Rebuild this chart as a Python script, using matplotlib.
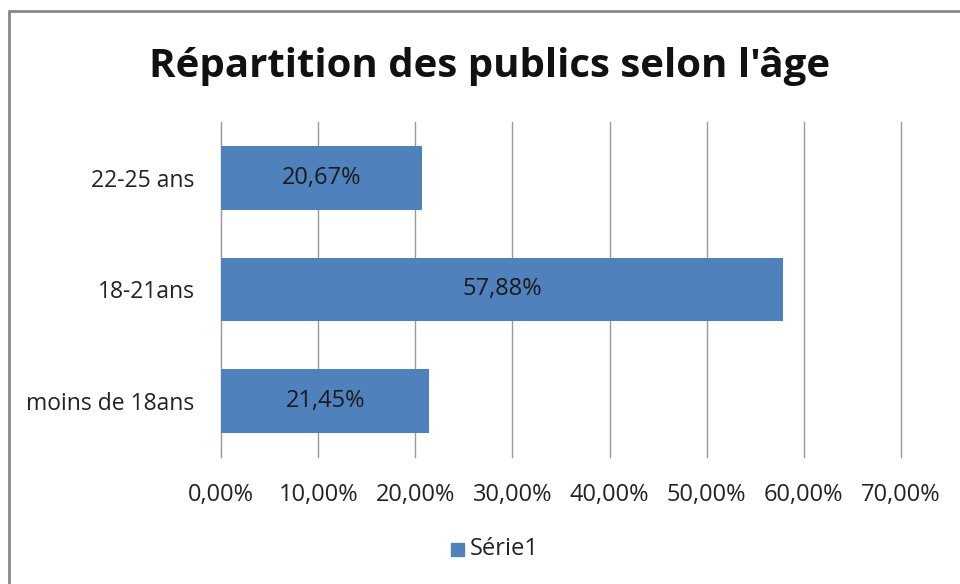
import matplotlib.pyplot as plt
from matplotlib.patches import Rectangle

categories = ['moins de 18ans', '18-21ans', '22-25 ans']
values = [21.45, 57.88, 20.67]
value_labels = ['21,45%', '57,88%', '20,67%']
xticks = [0, 10, 20, 30, 40, 50, 60, 70]
xtick_labels = ['0,00%', '10,00%', '20,00%', '30,00%', '40,00%', '50,00%', '60,00%', '70,00%']

plt.rcParams['font.family'] = ['Open Sans', 'DejaVu Sans']

fig = plt.figure(figsize=(9.6, 5.84), dpi=100)
ax = fig.add_axes([221 / 960, 1 - 457 / 584, 680 / 960, 335 / 584])

# outer chart border
fig.patches.append(Rectangle((9 / 960, -0.1), 1.2, 1 - 11 / 584 + 0.1,
                             transform=fig.transFigure, fill=False,
                             edgecolor='#888888', linewidth=2))

ypos = range(len(categories))
ax.barh(ypos, values, height=0.57, color='#4F81BD', zorder=3)
for y, v, lab in zip(ypos, values, value_labels):
    ax.text(v / 2, y, lab, ha='center', va='center', fontsize=17, color='#1a1a1a', zorder=4)

ax.set_xlim(0, 70)
ax.set_ylim(-0.5, 2.5)
ax.set_xticks(xticks)
ax.set_xticklabels(xtick_labels, fontsize=17, color='#222222')
ax.set_yticks(list(ypos))
ax.set_yticklabels(categories, fontsize=16.5, color='#222222')
ax.tick_params(length=0, pad=19, axis='x')
ax.tick_params(length=0, pad=19, axis='y')
ax.grid(axis='x', color='#999999', linewidth=1, zorder=0)
for line in ax.get_xgridlines():
    line.set_clip_on(False)
for s in ['top', 'right', 'bottom']:
    ax.spines[s].set_visible(False)
ax.spines['left'].set_color('#999999')

fig.text(490 / 960, 1 - 66 / 584, "Répartition des publics selon l'âge",
         ha='center', va='center', fontsize=29, fontweight='bold', color='#111111')

# legend
fig.patches.append(Rectangle((451 / 960, 1 - 556 / 584), 13 / 960, 13 / 584,
                             transform=fig.transFigure, color='#4F81BD'))
fig.text(470 / 960, 1 - 549 / 584, 'Série1', ha='left', va='center', fontsize=17, color='#222222')

fig.savefig('out.png', dpi=100)
